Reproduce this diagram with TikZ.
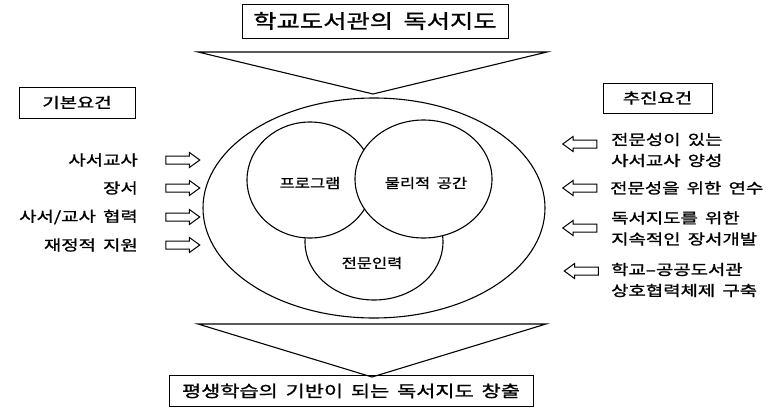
\documentclass[tikz,border=0pt]{standalone}
\usepackage{fontspec}
\newfontfamily\krfont[FakeStretch=1.3,FakeBold=1.2,WordSpace=1.7]{Noto Sans CJK KR}
\newfontfamily\krtitle[FakeStretch=1.3,FakeBold=1.4,WordSpace=1.8]{Noto Sans CJK KR}
\newfontfamily\krcirc[FakeStretch=1.22,FakeBold=1.1,WordSpace=1.8]{Noto Sans CJK KR}
\usetikzlibrary{shapes.arrows,shapes.geometric}
\tikzset{
  ln/.style={line width=1.1pt},
  txt/.style={inner sep=0pt, font=\krfont\fontsize{14.5}{21}\selectfont},
  btxt/.style={inner sep=0pt, font=\krfont\fontsize{16}{21}\selectfont},
  ttl/.style={inner sep=0pt, font=\krtitle\fontsize{19.5}{24}\selectfont},
  ctxt/.style={inner sep=0pt, font=\krcirc\fontsize{13.5}{18}\selectfont},
  frame/.style={draw, line width=1pt, inner sep=0pt},
  oval/.style={draw, ellipse, line width=1.1pt, fill=white, inner sep=0pt},
  barrow/.style={draw, line width=1pt, single arrow, single arrow head extend=3.5pt,
    single arrow tip angle=72, inner xsep=0pt, inner ysep=3.5pt,
    text height=0pt, text depth=0pt, minimum height=34pt},
  rarrow/.style={barrow},
  larrow/.style={barrow, shape border rotate=180},
}
\begin{document}
\begin{tikzpicture}[x=1pt,y=-1pt]
\useasboundingbox (0,0) rectangle (774,410);
% title box
\node[frame, minimum width=266pt, minimum height=34pt] (top) at (375,21) {};
\node[ttl] (toptxt) at (top.center) {학교도서관의 독서지도};
% top triangle
\coordinate (t1) at (198,52);
\coordinate (t2) at (547,52);
\coordinate (t3) at (373,94);
\draw[ln, line join=miter] (t1) -- (t2) -- (t3) -- cycle;
% outer ellipse
\node[oval, minimum width=342pt, minimum height=220pt] (outer) at (374,208) {};
% inner circles
\node[oval, minimum width=138pt, minimum height=116pt] (staff) at (374,242) {};
\node[oval, minimum width=126pt, minimum height=116pt] (prog) at (310,180) {};
\node[oval, minimum width=137pt, minimum height=118pt] (space) at (423.5,179) {};
\node[ctxt] (progtxt) at (310,183) {프로그램};
\node[ctxt] (spacetxt) at (426,183) {물리적 공간};
\node[ctxt] (stafftxt) at (372,263) {전문인력};
% bottom triangle
\coordinate (b1) at (198,324);
\coordinate (b2) at (546,324);
\coordinate (b3) at (372,377);
\draw[ln, line join=miter] (b1) -- (b2) -- (b3) -- cycle;
% bottom box
\node[frame, minimum width=364pt, minimum height=31pt] (bot) at (351,391) {};
\node[btxt] (bottxt) at (bot.center) {평생학습의 기반이 되는 독서지도 창출};
% left side
\node[frame, minimum width=116pt, minimum height=31pt] (lbox) at (77,102.5) {};
\node[txt] (lboxtxt) at (lbox.center) {기본요건};
\node[txt, anchor=east] (l1) at (138,160) {사서교사};
\node[txt, anchor=east] (l2) at (138,188) {장서};
\node[txt, anchor=east] (l3) at (138,217) {사서/교사 협력};
\node[txt, anchor=east] (l4) at (138,245) {재정적 지원};
\node[rarrow] (la1) at (180,160) {};
\node[rarrow] (la2) at (180,188) {};
\node[rarrow] (la3) at (180,217) {};
\node[rarrow] (la4) at (180,245) {};
% right side
\node[frame, minimum width=109pt, minimum height=30pt] (rbox) at (657.5,98) {};
\node[txt] (rboxtxt) at (rbox.center) {추진요건};
\node[larrow] (ra1) at (582.5,144) {};
\node[larrow] (ra2) at (582.5,188) {};
\node[larrow] (ra3) at (582.5,228) {};
\node[larrow] (ra4) at (584,271) {};
\node[txt, anchor=west, align=left] (r1) at (611,150) {전문성이 있는\\사서교사 양성};
\node[txt, anchor=west] (r2) at (610,188) {전문성을 위한 연수};
\node[txt, anchor=west, align=left] (r3) at (611,228.5) {독서지도를 위한\\지속적인 장서개발};
\node[txt, anchor=west, align=left] (r4) at (611,280) {학교–공공도서관\\상호협력체제 구축};
\end{tikzpicture}
\end{document}
